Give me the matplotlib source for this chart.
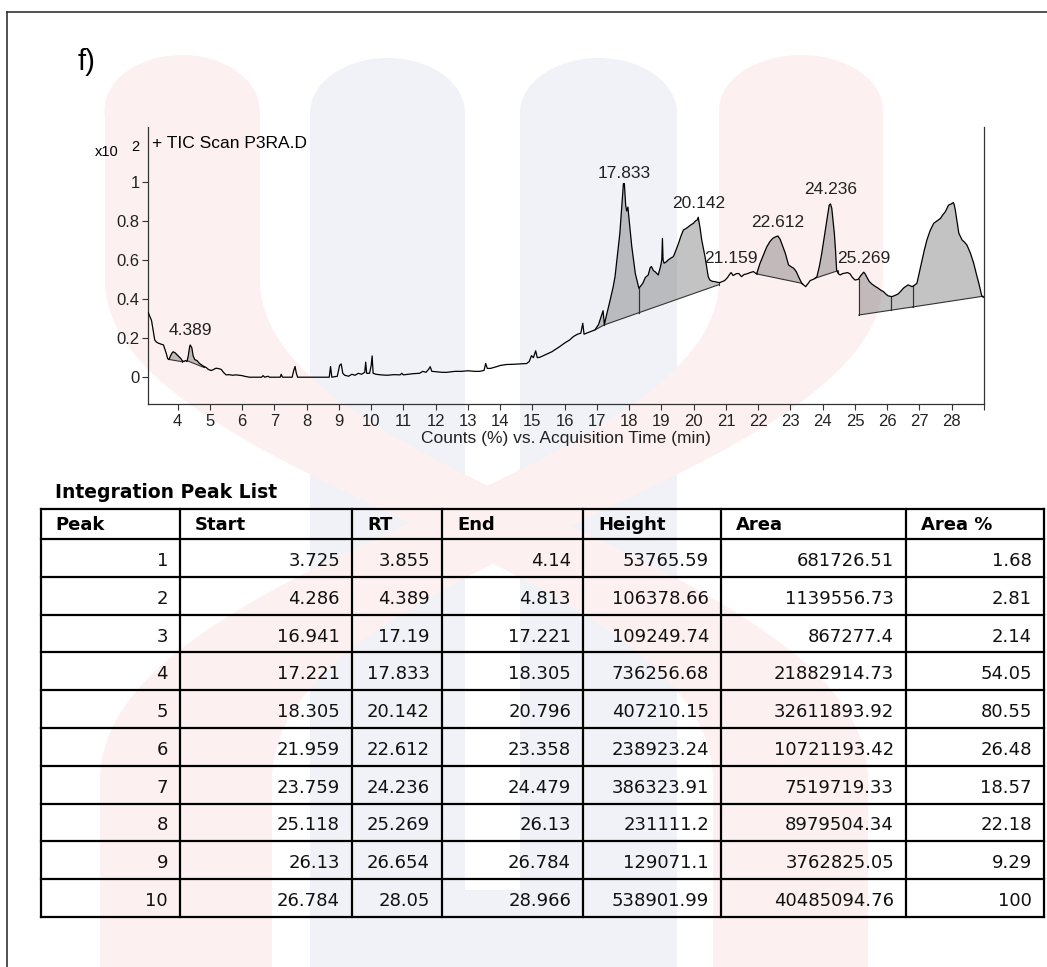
import numpy as np
import matplotlib.pyplot as plt
from matplotlib.patches import Ellipse, Rectangle, PathPatch
from matplotlib.path import Path

plt.rcParams["font.family"] = ["Liberation Sans", "DejaVu Sans"]

# TIC trace, time (min) vs counts (x10^2 %)
trace_t = [3.09, 3.14, 3.19, 3.24, 3.29, 3.34, 3.39, 3.47, 3.56, 3.61, 3.65, 3.69,
           3.73, 3.78, 3.83, 3.86, 3.92, 3.98, 4.04, 4.10, 4.14, 4.19, 4.24, 4.29,
           4.33, 4.37, 4.39, 4.44, 4.48, 4.53, 4.60, 4.68, 4.74, 4.81, 4.88, 4.95,
           5.04, 5.12, 5.19, 5.27, 5.35, 5.42, 5.50, 5.60, 5.70, 5.81, 5.90, 6.00,
           6.07, 6.22, 6.60, 6.65, 6.70, 6.80, 6.85, 7.18, 7.21, 7.25, 7.55, 7.60,
           7.64, 7.68, 7.72, 8.70, 8.74, 8.78, 8.95, 9.02, 9.07, 9.12, 9.18, 9.30,
           9.40, 9.50, 9.60, 9.70, 9.80, 9.83, 9.86, 9.95, 10.00, 10.03, 10.06, 10.15,
           10.30, 10.50, 10.70, 10.90, 10.95, 11.00, 11.30, 11.50, 11.60, 11.70, 11.78, 11.83,
           11.88, 12.00, 12.20, 12.34, 12.60, 12.80, 13.00, 13.20, 13.37, 13.50, 13.55, 13.60,
           13.70, 13.89, 14.00, 14.20, 14.40, 14.60, 14.82, 14.90, 14.97, 15.03, 15.10, 15.15,
           15.23, 15.40, 15.60, 15.85, 16.00, 16.15, 16.27, 16.40, 16.50, 16.56, 16.60, 16.75,
           16.94, 17.05, 17.15, 17.19, 17.23, 17.30, 17.41, 17.50, 17.56, 17.63, 17.71, 17.78,
           17.82, 17.85, 17.89, 17.92, 17.96, 18.00, 18.08, 18.19, 18.30, 18.42, 18.50, 18.59,
           18.65, 18.69, 18.75, 18.80, 18.90, 18.97, 19.01, 19.03, 19.05, 19.08, 19.15, 19.21,
           19.30, 19.37, 19.45, 19.53, 19.60, 19.68, 19.76, 19.84, 19.92, 19.99, 20.06, 20.11,
           20.14, 20.20, 20.25, 20.35, 20.45, 20.50, 20.58, 20.66, 20.74, 20.81, 20.90, 20.96,
           21.05, 21.10, 21.16, 21.22, 21.33, 21.40, 21.48, 21.56, 21.64, 21.75, 21.85, 21.95,
           22.05, 22.16, 22.26, 22.36, 22.45, 22.54, 22.61, 22.68, 22.76, 22.84, 22.94, 23.02,
           23.10, 23.18, 23.25, 23.35, 23.47, 23.55, 23.61, 23.70, 23.76, 23.82, 23.90, 23.97,
           24.05, 24.13, 24.20, 24.24, 24.28, 24.32, 24.36, 24.40, 24.43, 24.48, 24.54, 24.62,
           24.69, 24.77, 24.85, 24.92, 25.00, 25.10, 25.18, 25.27, 25.31, 25.36, 25.44, 25.52,
           25.62, 25.72, 25.80, 25.88, 25.96, 26.03, 26.14, 26.24, 26.34, 26.42, 26.50, 26.58,
           26.65, 26.70, 26.77, 26.84, 26.92, 27.00, 27.08, 27.15, 27.23, 27.33, 27.44, 27.55,
           27.65, 27.72, 27.80, 27.90, 27.97, 28.05, 28.08, 28.11, 28.16, 28.22, 28.32, 28.40,
           28.47, 28.58, 28.68, 28.76, 28.84, 28.93, 28.97]
trace_y = [0.33, 0.31, 0.29, 0.24, 0.19, 0.18, 0.175, 0.17, 0.165, 0.14, 0.12, 0.095,
           0.09, 0.11, 0.125, 0.13, 0.125, 0.115, 0.105, 0.095, 0.085, 0.08, 0.085, 0.08,
           0.11, 0.155, 0.165, 0.15, 0.11, 0.09, 0.085, 0.07, 0.063, 0.055, 0.05, 0.04,
           0.034, 0.04, 0.046, 0.044, 0.04, 0.025, 0.012, 0.013, 0.01, 0.012, 0.01, 0.008,
           0.005, 0.0, 0.0, 0.008, 0.0, 0.005, 0.0, 0.0, 0.015, 0.0, 0.0, 0.035,
           0.055, 0.02, 0.0, 0.0, 0.055, 0.0, 0.005, 0.06, 0.068, 0.02, 0.01, 0.005,
           0.015, 0.01, 0.02, 0.015, 0.025, 0.077, 0.02, 0.02, 0.06, 0.109, 0.02, 0.015,
           0.012, 0.01, 0.013, 0.012, 0.02, 0.012, 0.018, 0.02, 0.03, 0.025, 0.04, 0.054,
           0.03, 0.028, 0.025, 0.025, 0.03, 0.03, 0.033, 0.03, 0.03, 0.035, 0.07, 0.045,
           0.045, 0.054, 0.06, 0.065, 0.066, 0.068, 0.07, 0.08, 0.11, 0.10, 0.135, 0.10,
           0.102, 0.115, 0.13, 0.157, 0.175, 0.19, 0.208, 0.22, 0.225, 0.276, 0.22, 0.23,
           0.242, 0.27, 0.32, 0.34, 0.27, 0.32, 0.395, 0.46, 0.514, 0.62, 0.736, 0.90,
           0.99, 0.99, 0.88, 0.85, 0.87, 0.80, 0.668, 0.53, 0.455, 0.48, 0.51, 0.523,
           0.56, 0.566, 0.545, 0.54, 0.523, 0.566, 0.60, 0.71, 0.60, 0.583, 0.59, 0.60,
           0.61, 0.617, 0.65, 0.685, 0.72, 0.753, 0.76, 0.77, 0.78, 0.787, 0.80, 0.804,
           0.818, 0.76, 0.70, 0.617, 0.514, 0.497, 0.49, 0.489, 0.485, 0.484, 0.49, 0.494,
           0.51, 0.523, 0.535, 0.52, 0.53, 0.53, 0.514, 0.525, 0.528, 0.535, 0.54, 0.528,
           0.58, 0.625, 0.665, 0.693, 0.71, 0.718, 0.722, 0.705, 0.67, 0.634, 0.574, 0.565,
           0.557, 0.54, 0.514, 0.48, 0.463, 0.48, 0.494, 0.50, 0.505, 0.514, 0.57, 0.634,
           0.72, 0.804, 0.88, 0.886, 0.864, 0.80, 0.736, 0.64, 0.549, 0.53, 0.523, 0.53,
           0.532, 0.535, 0.528, 0.51, 0.497, 0.50, 0.52, 0.537, 0.53, 0.514, 0.49, 0.477,
           0.465, 0.455, 0.445, 0.438, 0.425, 0.416, 0.412, 0.418, 0.426, 0.44, 0.455, 0.465,
           0.472, 0.468, 0.463, 0.47, 0.48, 0.54, 0.60, 0.65, 0.702, 0.75, 0.787, 0.80,
           0.812, 0.83, 0.846, 0.88, 0.885, 0.893, 0.88, 0.855, 0.80, 0.736, 0.702, 0.69,
           0.676, 0.634, 0.583, 0.53, 0.48, 0.416, 0.41]

# Integration Peak List
peak_no = [1, 2, 3, 4, 5, 6, 7, 8, 9, 10]
peak_start = [3.725, 4.286, 16.941, 17.221, 18.305, 21.959, 23.759, 25.118, 26.13, 26.784]
peak_rt = [3.855, 4.389, 17.19, 17.833, 20.142, 22.612, 24.236, 25.269, 26.654, 28.05]
peak_end = [4.14, 4.813, 17.221, 18.305, 20.796, 23.358, 24.479, 26.13, 26.784, 28.966]
peak_height = [53765.59, 106378.66, 109249.74, 736256.68, 407210.15,
               238923.24, 386323.91, 231111.2, 129071.1, 538901.99]
peak_area = [681726.51, 1139556.73, 867277.4, 21882914.73, 32611893.92,
             10721193.42, 7519719.33, 8979504.34, 3762825.05, 40485094.76]
peak_area_pct = [1.68, 2.81, 2.14, 54.05, 80.55, 26.48, 18.57, 22.18, 9.29, 100]

# baseline level at start / end of each integrated peak
base_start = [0.091, 0.085, 0.242, 0.267, 0.33, 0.528, 0.506, 0.318, 0.343, 0.359]
base_end = [0.079, 0.05, 0.267, 0.33, 0.474, 0.48, 0.545, 0.343, 0.359, 0.414]

# RT labels drawn above the chromatogram
label_rt = [4.389, 17.833, 20.142, 21.159, 22.612, 24.236, 25.269]
label_y = [0.237, 1.044, 0.888, 0.605, 0.789, 0.959, 0.605]

table_cols = ["Peak", "Start", "RT", "End", "Height", "Area", "Area %"]

W, H = 1047, 967
fig = plt.figure(figsize=(W / 100, H / 100), dpi=100)
fig.patch.set_facecolor("white")

# page layer in pixel units (watermark, frame, table)
page = fig.add_axes([0, 0, 1, 1], zorder=0)
page.set_xlim(0, W)
page.set_ylim(H, 0)
page.axis("off")

pink = "#fdf0f0"
blue = "#f0f2f7"


def arch(x0, x1, top, color):
    cx = (x0 + x1) / 2
    page.add_patch(Ellipse((cx, top + 55), x1 - x0, 110, color=color, lw=0, zorder=1))
    page.add_patch(Rectangle((x0, top + 55), x1 - x0, H - top, color=color, lw=0, zorder=1))


def sweep(l0, r0, l1, r1, color):
    verts = [(l0, 110), (l0, 280), (l0, 480), (l1, 560), (l1, 780), (l1, H + 5),
             (r1, H + 5), (r1, 780), (r1, 560), (r0, 480), (r0, 280), (r0, 110), (l0, 110)]
    codes = [Path.MOVETO, Path.LINETO, Path.CURVE4, Path.CURVE4, Path.CURVE4, Path.LINETO,
             Path.LINETO, Path.LINETO, Path.CURVE4, Path.CURVE4, Path.CURVE4, Path.LINETO,
             Path.CLOSEPOLY]
    page.add_patch(PathPatch(Path(verts, codes), color=color, lw=0, zorder=2))


# blue "U"
arch(310, 465, 58, blue)
arch(520, 677, 58, blue)
page.add_patch(Rectangle((460, 890), 65, H, color=blue, lw=0, zorder=1))
# pink crossing strokes
page.add_patch(Ellipse((182, 110), 155, 110, color=pink, lw=0, zorder=2))
page.add_patch(Ellipse((801, 110), 164, 110, color=pink, lw=0, zorder=2))
sweep(105, 260, 713, 868, pink)
sweep(719, 883, 100, 272, pink)

# outer frame
page.plot([7, W], [12, 12], color="#333333", lw=1.2, zorder=5)
page.plot([7, 7], [12, H], color="#333333", lw=1.2, zorder=5)
page.text(78, 62, "f)", fontsize=21, va="center", ha="left", zorder=5)

# chart header texts
page.text(95, 152, "x10", fontsize=10.5, va="center", ha="left", zorder=5)
page.text(131, 147, "2", fontsize=10.5, va="center", ha="left", zorder=5)
page.text(152, 144, "+ TIC Scan P3RA.D", fontsize=12.5, va="center", ha="left", zorder=5)

# chromatogram
ax = fig.add_axes([148.3 / W, 1 - 404 / H, (984 - 148.3) / W, (404 - 126.7) / H], zorder=2)
ax.patch.set_alpha(0)
t = np.array(trace_t)
y = np.array(trace_y)

for s, e, b0, b1 in zip(peak_start, peak_end, base_start, base_end):
    inside = (t > s) & (t < e)
    xs = np.concatenate([[s], t[inside], [e]])
    ys = np.concatenate([[np.interp(s, t, y)], y[inside], [np.interp(e, t, y)]])
    px = np.concatenate([xs, [e, s]])
    py = np.concatenate([ys, [b1, b0]])
    ax.fill(px, py, facecolor="#7a7a7a", alpha=0.45, edgecolor="none", zorder=2)
    ax.plot([s, s], [ys[0], b0], color="#333333", lw=0.8, zorder=3)
    ax.plot([e, e], [ys[-1], b1], color="#333333", lw=0.8, zorder=3)
    ax.plot([s, e], [b0, b1], color="#333333", lw=0.8, zorder=3)

ax.plot(t, y, color="black", lw=0.9, zorder=4)

for rt, ly in zip(label_rt, label_y):
    ax.text(rt, ly, f"{rt:.3f}", ha="center", va="center", fontsize=12.5,
            color="#222222", zorder=5)

ax.set_xlim(3.09, 29.0)
ax.set_ylim(-0.137, 1.281)
ax.spines["top"].set_visible(False)
for side in ["left", "bottom", "right"]:
    ax.spines[side].set_color("#333333")
    ax.spines[side].set_linewidth(0.9)
xt = list(range(4, 30))
ax.set_xticks(xt)
ax.set_xticklabels([str(v) if v < 29 else "" for v in xt])
ax.set_yticks([0, 0.2, 0.4, 0.6, 0.8, 1.0])
ax.set_yticklabels(["0", "0.2", "0.4", "0.6", "0.8", "1"])
ax.tick_params(direction="out", length=4.3, width=0.8, color="#333333",
               labelsize=12, labelcolor="#222222", pad=2)
ax.tick_params(axis="x", pad=3)
ax.set_xlabel("Counts (%) vs. Acquisition Time (min)", fontsize=12.5,
              color="#222222", labelpad=1)

# integration table
col_x = [40.7, 180, 352, 442, 583, 721, 906, 1044]
row_y = [509, 539] + [539 + 37.8 * (k + 1) for k in range(10)]
page.text(55, 493, "Integration Peak List", fontsize=13.5, fontweight="bold",
          family="DejaVu Sans", va="center", ha="left", zorder=5)
for yy in row_y:
    page.plot([col_x[0], col_x[-1]], [yy, yy], color="black", lw=1.6, zorder=5,
              solid_capstyle="projecting")
for xx in col_x:
    page.plot([xx, xx], [row_y[0], row_y[-1]], color="black", lw=1.6, zorder=5,
              solid_capstyle="projecting")
for j, name in enumerate(table_cols):
    page.text(col_x[j] + 15, 525, name, fontsize=13, fontweight="bold",
              family="DejaVu Sans", va="center", ha="left", zorder=6)

columns = [peak_no, peak_start, peak_rt, peak_end, peak_height, peak_area, peak_area_pct]
for j, vals in enumerate(columns):
    for i, v in enumerate(vals):
        yc = (row_y[i + 1] + row_y[i + 2]) / 2 + 3
        page.text(col_x[j + 1] - 12, yc, str(v), fontsize=13, family="DejaVu Sans",
                  va="center", ha="right", color="#111111", zorder=6)

fig.savefig("out.png", dpi=100, facecolor="white")
